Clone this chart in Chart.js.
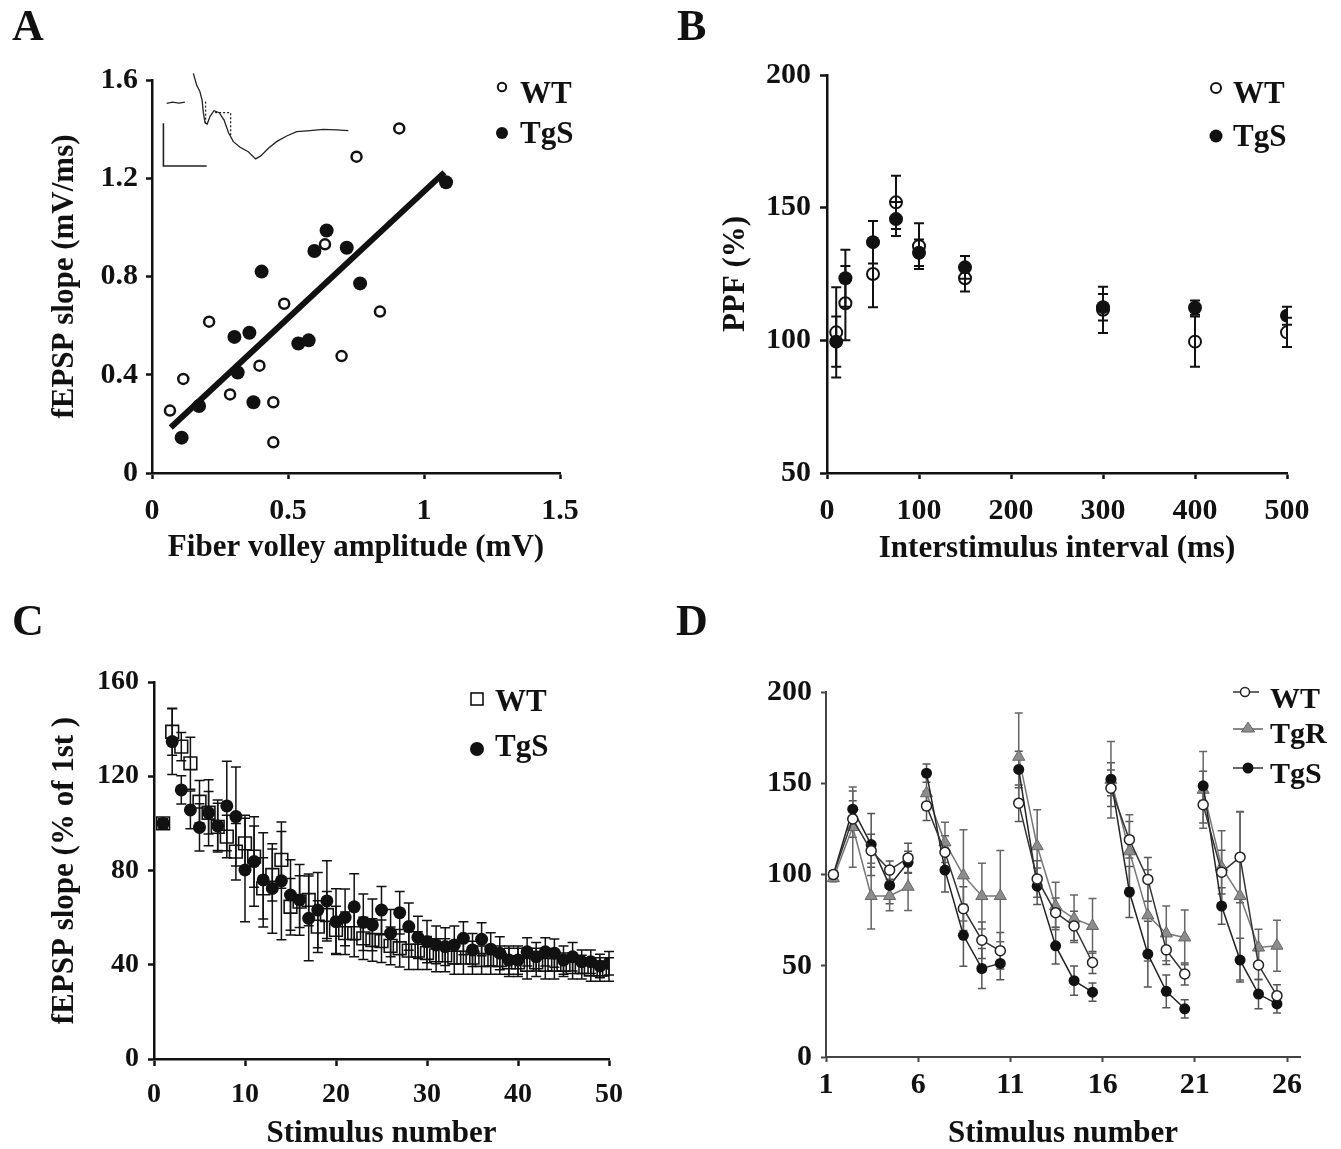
<!DOCTYPE html>
<html lang="en">
<head>
<meta charset="utf-8">
<title>Figura</title>
<script src="https://cdn.jsdelivr.net/npm/chart.js@4.4.1/dist/chart.umd.min.js"></script>
<style>
  html, body { margin: 0; padding: 0; background: #fff; overflow: hidden; }
  #fig { position: relative; width: 1341px; height: 1149px; overflow: hidden;
         font-family: "Liberation Serif", "Times New Roman", serif; font-weight: bold; color: #111; }
  #fig canvas, #fig svg { position: absolute; }
  .letra { position: absolute; font-size: 44px; line-height: 44px; }
  .txt { position: absolute; font-size: 31px; line-height: 31px; white-space: nowrap; }
  .txtD { position: absolute; font-size: 30px; line-height: 30px; white-space: nowrap; }
</style>
</head>
<body>
<div id="fig">
  <canvas id="grafA" width="670" height="590" style="left:0;top:0"></canvas>
  <canvas id="grafB" width="671" height="590" style="left:670px;top:0"></canvas>
  <canvas id="grafC" width="670" height="566" style="left:0;top:585px"></canvas>
  <canvas id="grafD" width="671" height="566" style="left:670px;top:585px"></canvas>

  <div class="letra" style="left:12px;top:4px">A</div>
  <div class="letra" style="left:677px;top:4px">B</div>
  <div class="letra" style="left:12px;top:599px">C</div>
  <div class="letra" style="left:676px;top:599px">D</div>

  <!-- legenda A -->
  <svg style="left:496px;top:81px" width="12" height="12"><circle cx="6" cy="6" r="4.2" fill="none" stroke="#111" stroke-width="2"/></svg>
  <div class="txt" style="left:520px;top:77px">WT</div>
  <svg style="left:495px;top:126px" width="14" height="14"><circle cx="7" cy="7" r="6" fill="#111"/></svg>
  <div class="txt" style="left:520px;top:117px">TgS</div>

  <!-- legenda B -->
  <svg style="left:1209px;top:81px" width="14" height="14"><circle cx="7" cy="7" r="5" fill="none" stroke="#111" stroke-width="2"/></svg>
  <div class="txt" style="left:1233px;top:77px">WT</div>
  <svg style="left:1209px;top:129px" width="14" height="14"><circle cx="7" cy="7" r="6.5" fill="#111"/></svg>
  <div class="txt" style="left:1233px;top:120px">TgS</div>

  <!-- legenda C -->
  <svg style="left:469px;top:691px" width="16" height="16"><rect x="2" y="2" width="12" height="12" fill="none" stroke="#111" stroke-width="1.6"/></svg>
  <div class="txt" style="left:495px;top:685px">WT</div>
  <svg style="left:469px;top:741px" width="16" height="16"><circle cx="8" cy="8" r="7" fill="#111"/></svg>
  <div class="txt" style="left:495px;top:730px">TgS</div>

  <!-- legenda D -->
  <svg style="left:1232px;top:685px" width="28" height="14"><line x1="1" y1="7" x2="27" y2="7" stroke="#333" stroke-width="1.5"/><circle cx="13" cy="7" r="4.5" fill="#fff" stroke="#222" stroke-width="1.5"/></svg>
  <div class="txtD" style="left:1270px;top:683px">WT</div>
  <svg style="left:1233px;top:720px" width="30" height="16"><line x1="0" y1="9" x2="30" y2="9" stroke="#888" stroke-width="2"/><polygon points="15,2 21.5,12 8.5,12" fill="#8c8c8c" stroke="#666" stroke-width="1"/></svg>
  <div class="txtD" style="left:1270px;top:718px">TgR</div>
  <svg style="left:1233px;top:760px" width="30" height="16"><line x1="0" y1="8" x2="30" y2="8" stroke="#333" stroke-width="1.5"/><circle cx="15" cy="8" r="5.5" fill="#111"/></svg>
  <div class="txtD" style="left:1270px;top:758px">TgS</div>
</div>

<script>
// ---- A: fEPSP x fiber volley
const fvWT = [0.066, 0.115, 0.21, 0.287, 0.395, 0.446, 0.446, 0.486, 0.636, 0.697, 0.838, 0.752, 0.909]
const slopeWT = [0.254, 0.383, 0.616, 0.32, 0.437, 0.288, 0.125, 0.689, 0.931, 0.476, 0.657, 1.288, 1.403]
const fvTgS = [0.109, 0.173, 0.303, 0.358, 0.315, 0.373, 0.403, 0.538, 0.576, 0.597, 0.642, 0.716, 0.765, 1.081]
const slopeTgS = [0.144, 0.273, 0.554, 0.571, 0.409, 0.288, 0.82, 0.527, 0.54, 0.904, 0.987, 0.917, 0.772, 1.184]
const retaX = [0.069, 1.075]
const retaY = [0.185, 1.224]
// traco de exemplo (inset)
const tracoX = [0.152, 0.164, 0.176, 0.184, 0.189, 0.195, 0.203, 0.213, 0.228, 0.247, 0.265, 0.281, 0.299, 0.324, 0.354, 0.381, 0.4, 0.428, 0.458, 0.495, 0.532, 0.581, 0.63, 0.679, 0.722]
const tracoY = [1.627, 1.58, 1.553, 1.519, 1.465, 1.426, 1.421, 1.451, 1.475, 1.467, 1.437, 1.386, 1.349, 1.326, 1.308, 1.279, 1.291, 1.322, 1.349, 1.372, 1.39, 1.394, 1.399, 1.397, 1.394]
const baseX = [0.054, 0.075, 0.1, 0.121]
const baseY = [1.505, 1.51, 1.506, 1.51]
const ponto1X = [0.197, 0.197]
const ponto1Y = [1.512, 1.424]
const ponto2X = [0.232, 0.289, 0.289]
const ponto2Y = [1.467, 1.467, 1.376]
const barraX = [0.042, 0.042, 0.201]
const barraY = [1.424, 1.25, 1.25]
const ticksAx = [0, 0.5, 1, 1.5]
const ticksAy = [0, 0.4, 0.8, 1.2, 1.6]

// ---- B: PPF
const intervalos = [10, 20, 50, 75, 100, 150, 300, 400, 500]
const ppfWT = [103, 114, 125, 152, 135.5, 123.4, 111.5, 99.5, 103]
const errPpfWT = [17, 14, 12.5, 10, 8.6, 5, 8.7, 9.5, 5.5]
const ppfTgS = [99.5, 123.4, 137, 145.7, 133, 127.5, 112.5, 112.3, 109.3]
const errPpfTgS = [9.5, 10.7, 8, 6.4, 5, 4.3, 5, 2.7, 3.4]
const ticksBx = [0, 100, 200, 300, 400, 500]
const ticksBy = [50, 100, 150, 200]

// ---- C: trem de 50 estimulos
const estimC = Array.from({ length: 50 }, (_, i) => i + 1)
const cWT = [100, 138.9, 132.6, 125.5, 109.2, 104.5, 98.5, 94.4, 88, 91.5,
  85.9, 72.4, 78.1, 84.5, 64.6, 66.8, 67.5, 56.2, 61.1, 54.8,
  53.4, 53.4, 51.2, 50.5, 50, 48, 47, 46, 46, 45,
  44, 44, 43, 43, 43, 42, 42, 42, 41, 41,
  40, 41, 40, 40, 40, 39, 39, 38, 38, 38]
const errCWT = [2, 10, 6, 11, 9, 14, 10, 9, 12, 12, 13, 13, 11, 12, 12, 11, 11, 11, 10, 10,
  9, 10, 9, 9, 9, 8, 8, 8, 8, 7, 7, 7, 7, 7, 7, 6, 6, 6, 6, 6,
  6, 6, 6, 6, 5, 5, 5, 5, 5, 5]
const cTgS = [100, 134.7, 114.2, 105.7, 98.3, 104.5, 98.9, 107.4, 102.9, 80.2,
  83.8, 76, 72.4, 75.6, 69.6, 67.5, 59.7, 63.2, 67.1, 58.3,
  60.1, 64.6, 58, 56.9, 63.2, 53.4, 62.1, 56.2, 51.6, 49.8,
  48.4, 47.7, 48.4, 51.2, 46.3, 50.8, 46.6, 44.9, 42, 42,
  45.5, 43.4, 45.5, 44.9, 42, 43.4, 41.3, 41.3, 39.5, 40.6]
const errCTgS = [2, 14, 6, 8, 10, 9, 11, 19, 21, 22, 19, 20, 19, 25, 15, 15, 18, 16, 17, 14,
  12, 14, 12, 11, 10, 10, 9, 10, 9, 9, 8, 8, 8, 7, 7, 7, 7, 7, 6, 6,
  6, 6, 6, 6, 6, 6, 5, 5, 5, 5]
const ticksCx = [0, 10, 20, 30, 40, 50]
const ticksCy = [0, 40, 80, 120, 160]

// ---- D: trens de 5 estimulos
const posD = [1.4, 2.45, 3.45, 4.45, 5.45, 6.45, 7.45, 8.45, 9.45, 10.45,
  11.45, 12.45, 13.45, 14.45, 15.45, 16.45, 17.45, 18.45, 19.45, 20.45,
  21.45, 22.45, 23.45, 24.45, 25.45]
const dWT = [100, 130.4, 113, 102.4, 109.1, 137.6, 112.2, 81.3, 64, 58.2,
  139.1, 97.6, 79.1, 71.8, 51.8, 147.3, 119.1, 97.3, 58.7, 45.5,
  138.2, 101.3, 109.5, 50.4, 33.6]
const errDWT = [2, 10, 9, 5, 8, 8, 9, 12, 10, 10, 10, 10, 8, 8, 6, 10, 10, 12, 8, 6, 10, 12, 25, 8, 6]
const dTgR = [98, 126, 88.2, 88.2, 93.3, 144.5, 117.6, 99.5, 88.2, 88.2,
  164.5, 115.5, 82.7, 75.8, 71.8, 151.9, 112.7, 77.6, 67.7, 65.5,
  146.4, 104, 88.2, 60, 61]
const errDTgR = [2, 22, 18, 8, 13, 9, 11, 25, 18, 25, 24, 20, 13, 13, 15, 21, 20, 25, 15, 15, 21, 20, 46, 10, 14]
const dTgS = [100, 135.8, 116.4, 94, 106.7, 155.5, 102.4, 66.7, 48.5, 51.3,
  157.6, 93.6, 60.9, 41.8, 35.5, 152.2, 90.4, 56.4, 36, 26.4,
  148.6, 82.7, 53.1, 34.5, 29.1]
const errDTgS = [2, 10, 17, 10, 6, 5, 12, 17, 11, 9, 10, 10, 10, 8, 5, 9, 14, 18, 9, 5, 8, 10, 12, 8, 5]
const ticksDx = [1, 6, 11, 16, 21, 26]
const ticksDy = [0, 50, 100, 150, 200]

const FONTE = 'Liberation Serif'

function pares(xs, ys) {
  return xs.map((x, i) => ({ x: x, y: ys[i] }))
}

// desenha as barras de erro pela escala y
const barrasErro = {
  id: 'barrasErro',
  beforeDatasetsDraw(chart) {
    const ctx = chart.ctx
    const escY = chart.scales.y
    chart.data.datasets.forEach((ds, i) => {
      if (!ds.erros) return
      const meta = chart.getDatasetMeta(i)
      const cap = ds.capErro || 5
      ctx.save()
      ctx.strokeStyle = ds.corErro || '#111'
      ctx.lineWidth = ds.larguraErro || 2
      meta.data.forEach((p, j) => {
        const e = ds.erros[j]
        if (!e) return
        const v = ds.data[j].y
        const yTop = escY.getPixelForValue(v + e)
        const yBot = escY.getPixelForValue(v - e)
        ctx.beginPath()
        ctx.moveTo(p.x, yTop)
        ctx.lineTo(p.x, yBot)
        ctx.moveTo(p.x - cap, yTop)
        ctx.lineTo(p.x + cap, yTop)
        ctx.moveTo(p.x - cap, yBot)
        ctx.lineTo(p.x + cap, yBot)
        ctx.stroke()
      })
      ctx.restore()
    })
  }
}

function eixo(c, ehX, tamanho, pad) {
  return {
    type: 'linear',
    min: c.min,
    max: c.max,
    afterBuildTicks: s => { s.ticks = c.valores.map(v => ({ value: v })) },
    afterFit: s => { if (ehX) s.height = tamanho; else s.width = tamanho },
    ticks: {
      color: '#111',
      font: { family: FONTE, weight: 'bold', size: c.fs },
      padding: pad,
      maxRotation: 0,
      autoSkip: false,
      callback: v => String(v)
    },
    grid: { drawOnChartArea: false, drawTicks: true, tickLength: c.tl, tickWidth: c.lw, tickColor: c.cor, color: c.cor },
    border: { display: true, color: c.cor, width: c.lw },
    title: c.titulo
      ? { display: true, text: c.titulo, color: '#111', padding: 0, font: { family: FONTE, weight: 'bold', size: 31, lineHeight: 1 } }
      : { display: false }
  }
}

// calcula paddings para que a area do grafico fique onde esta na figura
function opcoes(p) {
  const meia = 15.5
  const left = p.yTitX ? p.yTitX - meia - p.caixa.x : 0
  const padding = {
    left: left,
    top: p.area.t - p.caixa.y,
    right: p.caixa.x + p.caixa.w - p.area.r,
    bottom: p.caixa.y + p.caixa.h - (p.xTitY + meia)
  }
  const yW = p.area.l - p.caixa.x - left
  const xH = p.xTitY + meia - p.area.b
  const padY = p.area.l - p.yLabR - p.y.tl
  const padX = p.xLabY - p.area.b - p.x.tl - 0.6 * p.x.fs
  return {
    responsive: false,
    animation: false,
    devicePixelRatio: 1,
    layout: { padding: padding },
    plugins: { legend: { display: false }, tooltip: { enabled: false } },
    scales: {
      x: eixo(p.x, true, xH, padX),
      y: eixo(p.y, false, yW, padY)
    }
  }
}

function criarGrafA() {
  const ctx = document.getElementById('grafA').getContext('2d')
  const fino = { showLine: true, borderColor: '#222', borderWidth: 1.3, pointRadius: 0, clip: false, order: 5 }
  new Chart(ctx, {
    type: 'scatter',
    data: {
      datasets: [
        { data: pares(fvTgS, slopeTgS), pointRadius: 7, backgroundColor: '#111', borderColor: '#111', borderWidth: 0, order: 1 },
        { data: pares(fvWT, slopeWT), pointRadius: 5, backgroundColor: '#fff', borderColor: '#111', borderWidth: 2.5, order: 2 },
        { data: pares(retaX, retaY), showLine: true, borderColor: '#111', borderWidth: 6, pointRadius: 0, order: 3 },
        Object.assign({ data: pares(tracoX, tracoY) }, fino),
        Object.assign({ data: pares(baseX, baseY) }, fino),
        Object.assign({ data: pares(barraX, barraY) }, fino, { borderWidth: 1.6 }),
        Object.assign({ data: pares(ponto1X, ponto1Y) }, fino, { borderDash: [2, 2] }),
        Object.assign({ data: pares(ponto2X, ponto2Y) }, fino, { borderDash: [2, 2] })
      ]
    },
    options: opcoes({
      caixa: { x: 0, y: 0, w: 670, h: 590 },
      area: { l: 152, r: 560, t: 80, b: 473 },
      yTitX: 65, xTitY: 548, yLabR: 138, xLabY: 511,
      x: { min: 0, max: 1.5, valores: ticksAx, fs: 30, tl: 6, lw: 2.5, cor: '#111', titulo: 'Fiber volley amplitude (mV)' },
      y: { min: 0, max: 1.6, valores: ticksAy, fs: 30, tl: 6, lw: 2.5, cor: '#111', titulo: 'fEPSP slope (mV/ms)' }
    })
  })
}

function criarGrafB() {
  const ctx = document.getElementById('grafB').getContext('2d')
  new Chart(ctx, {
    type: 'scatter',
    data: {
      datasets: [
        { data: pares(intervalos, ppfTgS), erros: errPpfTgS, pointRadius: 7, backgroundColor: '#111', borderColor: '#111', borderWidth: 0, order: 1 },
        { data: pares(intervalos, ppfWT), erros: errPpfWT, pointRadius: 6, backgroundColor: 'rgba(255,255,255,0)', borderColor: '#111', borderWidth: 2, order: 2 }
      ]
    },
    options: opcoes({
      caixa: { x: 670, y: 0, w: 671, h: 590 },
      area: { l: 827, r: 1287, t: 75, b: 473 },
      yTitX: 736, xTitY: 549, yLabR: 811, xLabY: 511,
      x: { min: 0, max: 500, valores: ticksBx, fs: 30, tl: 6, lw: 2.5, cor: '#111', titulo: 'Interstimulus interval (ms)' },
      y: { min: 50, max: 200, valores: ticksBy, fs: 30, tl: 7, lw: 2.5, cor: '#111', titulo: 'PPF (%)' }
    }),
    plugins: [barrasErro]
  })
}

function criarGrafC() {
  const ctx = document.getElementById('grafC').getContext('2d')
  new Chart(ctx, {
    type: 'scatter',
    data: {
      datasets: [
        { data: pares(estimC, cTgS), erros: errCTgS, larguraErro: 1.5, capErro: 5, pointRadius: 6.5, backgroundColor: '#111', borderColor: '#111', borderWidth: 0, order: 1 },
        { data: pares(estimC, cWT), erros: errCWT, larguraErro: 1.5, capErro: 5, pointStyle: 'rect', pointRadius: 9, backgroundColor: 'rgba(255,255,255,0)', borderColor: '#111', borderWidth: 1.6, order: 2 }
      ]
    },
    options: opcoes({
      caixa: { x: 0, y: 585, w: 670, h: 566 },
      area: { l: 154, r: 609, t: 682, b: 1059 },
      yTitX: 65, xTitY: 1134, yLabR: 139, xLabY: 1095,
      x: { min: 0, max: 50, valores: ticksCx, fs: 28, tl: 7, lw: 2.5, cor: '#111', titulo: 'Stimulus number' },
      y: { min: 0, max: 160, valores: ticksCy, fs: 28, tl: 6, lw: 2.5, cor: '#111', titulo: 'fEPSP slope (% of 1st )' }
    }),
    plugins: [barrasErro]
  })
}

function criarGrafD() {
  const ctx = document.getElementById('grafD').getContext('2d')
  // linhas so dentro de cada trem (quebra a cada 5 estimulos)
  const quebra = cor => ({ borderColor: c => (c.p1DataIndex % 5 === 0 ? 'rgba(0,0,0,0)' : cor) })
  new Chart(ctx, {
    type: 'scatter',
    data: {
      datasets: [
        { data: pares(posD, dWT), erros: errDWT, corErro: '#555', larguraErro: 1.5, capErro: 4,
          showLine: true, borderColor: '#222', borderWidth: 1.5, segment: quebra('#333'),
          pointRadius: 5, pointBackgroundColor: '#fff', pointBorderColor: '#222', pointBorderWidth: 1.5, order: 1 },
        { data: pares(posD, dTgS), erros: errDTgS, corErro: '#555', larguraErro: 1.5, capErro: 4,
          showLine: true, borderColor: '#222', borderWidth: 1.5, segment: quebra('#222'),
          pointRadius: 5.5, pointBackgroundColor: '#111', pointBorderColor: '#111', pointBorderWidth: 0, order: 2 },
        { data: pares(posD, dTgR), erros: errDTgR, corErro: '#666', larguraErro: 1.5, capErro: 4,
          showLine: true, borderColor: '#777', borderWidth: 1.5, segment: quebra('#777'),
          pointStyle: 'triangle', pointRadius: 7, pointBackgroundColor: '#8c8c8c', pointBorderColor: '#666', pointBorderWidth: 1, order: 3 }
      ]
    },
    options: opcoes({
      caixa: { x: 670, y: 585, w: 671, h: 566 },
      area: { l: 826, r: 1300, t: 692, b: 1057 },
      yTitX: null, xTitY: 1134, yLabR: 812, xLabY: 1085,
      x: { min: 1, max: 26.7, valores: ticksDx, fs: 30, tl: 5, lw: 2, cor: '#444', titulo: 'Stimulus number' },
      y: { min: 0, max: 200, valores: ticksDy, fs: 30, tl: 5, lw: 2, cor: '#444', titulo: null }
    }),
    plugins: [barrasErro]
  })
}

criarGrafA()
criarGrafB()
criarGrafC()
criarGrafD()
</script>
</body>
</html>
